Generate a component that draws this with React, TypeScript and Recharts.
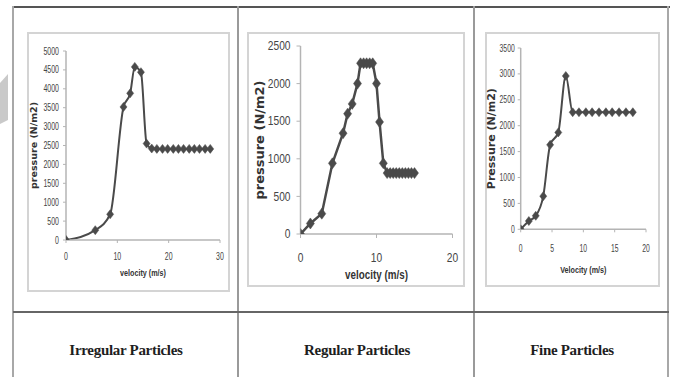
import React from 'react';
import { LineChart, Line, XAxis, YAxis, Label } from 'recharts';

// ---------- data ----------
const irregularVelocity = [0, 5.7, 8.6, 11.2, 12.5, 13.4, 14.6, 15.7, 16.7, 17.7, 18.8, 19.8, 20.9, 21.9, 22.9, 24.0, 25.0, 26.0, 27.1, 28.1];
const irregularPressure = [0, 260, 680, 3520, 3880, 4580, 4440, 2550, 2420, 2410, 2410, 2410, 2410, 2410, 2410, 2410, 2410, 2410, 2410, 2410];
const irregularXTicks = [0, 10, 20, 30];
const irregularYTicks = [0, 500, 1000, 1500, 2000, 2500, 3000, 3500, 4000, 4500, 5000];

const regularVelocity = [0, 1.3, 2.8, 4.2, 5.6, 6.2, 6.8, 7.5, 7.9, 8.3, 8.7, 9.1, 9.5, 10.0, 10.4, 10.9, 11.4, 11.8, 12.2, 12.6, 13.0, 13.4, 13.8, 14.2, 14.6, 15.0];
const regularPressure = [0, 140, 270, 940, 1340, 1600, 1730, 2000, 2270, 2270, 2270, 2270, 2270, 2000, 1490, 940, 810, 810, 810, 810, 810, 810, 810, 810, 810, 810];
const regularXTicks = [0, 10, 20];
const regularYTicks = [0, 500, 1000, 1500, 2000, 2500];

const fineVelocity = [0, 1.3, 2.4, 3.6, 4.7, 6.0, 7.2, 8.3, 9.3, 10.4, 11.4, 12.5, 13.6, 14.6, 15.7, 16.8, 17.9];
const finePressure = [0, 160, 260, 640, 1630, 1870, 2960, 2260, 2260, 2260, 2260, 2260, 2260, 2260, 2260, 2260, 2260];
const fineXTicks = [0, 5, 10, 15, 20];
const fineYTicks = [0, 500, 1000, 1500, 2000, 2500, 3000, 3500];

const captions = ['Irregular Particles', 'Regular Particles', 'Fine Particles'];

// ---------- helpers ----------
const zip = (v: number[], p: number[]) => v.map((x, i) => ({ v: x, p: p[i] }));

const SANS = "'Liberation Sans', Arial, sans-serif";
const WIDE_BOLD = "'DejaVu Sans', Verdana, sans-serif";
const LINE = '#4a4a4a';
const AXIS = '#b4b4b4';

const makeTick = (fontSize: number, sx: number, isX: boolean) => (p: any) => (
  <text
    transform={`translate(${p.x},${p.y}) scale(${sx},1)`}
    textAnchor={p.textAnchor}
    dy={isX ? '0.71em' : '0.355em'}
    fontSize={fontSize} fontFamily={SANS} fill="#444"
  >{p.payload.value}</text>
);

type PanelProps = {
  left: number; top: number; width: number; height: number;
  data: { v: number; p: number }[];
  xDomain: [number, number]; yDomain: [number, number];
  xTicks: number[]; yTicks: number[];
  margin: { top: number; right: number; left: number; bottom: number };
  yAxisWidth: number; xAxisHeight: number;
  tickFont: number; tickScale: number; ySize: number; yMargin: number; xSize: number; xMargin: number;
  xLabel: string; xLabelFont: number; xLabelOffset: number; xLabelScale: number;
  yLabel: string; yLabelFont: number; yLabelOffset: number;
  curve: 'monotone' | 'linear';
  dw: number; dh: number; strokeW: number;
};

function Panel(props: PanelProps) {
  const {
    left, top, width, height, data, xDomain, yDomain, xTicks, yTicks, margin,
    yAxisWidth, xAxisHeight, tickFont, tickScale, ySize, yMargin, xSize, xMargin,
    xLabel, xLabelFont, xLabelOffset, xLabelScale,
    yLabel, yLabelFont, yLabelOffset, curve, dw, dh, strokeW,
  } = props;
  return (
    <div style={{ position: 'absolute', left, top, width, height }}>
      <div style={{ position: 'absolute', left: 0, top: 0, width, height, boxSizing: 'border-box', border: '2px solid #d4d4d4', background: '#fff' }} />
      <div style={{ position: 'absolute', left: 0, top: 0 }}>
        <LineChart width={width} height={height} data={data} margin={margin}>
          <XAxis
            dataKey="v" type="number" domain={xDomain} ticks={xTicks} allowDataOverflow
            height={xAxisHeight} tickSize={xSize} tickMargin={xMargin}
            axisLine={{ stroke: AXIS, strokeWidth: 1.5 }} tickLine={{ stroke: AXIS }}
            tick={makeTick(tickFont, tickScale, true)} interval={0}
          >
            <Label
              value={xLabel}
              content={(lp: any) => {
                const vb = lp.viewBox;
                const cx = vb.x + vb.width / 2;
                const by = vb.y + vb.height - xLabelOffset;
                return (
                  <text transform={`translate(${cx},${by}) scale(${xLabelScale},1)`} textAnchor="middle"
                    fontSize={xLabelFont} fontFamily={SANS} fontWeight="bold" fill="#333">{xLabel}</text>
                );
              }}
            />
          </XAxis>
          <YAxis
            dataKey="p" type="number" domain={yDomain} ticks={yTicks} allowDataOverflow
            width={yAxisWidth} tickSize={ySize} tickMargin={yMargin}
            axisLine={{ stroke: AXIS, strokeWidth: 1.5 }} tickLine={{ stroke: AXIS }}
            tick={makeTick(tickFont, tickScale, false)} interval={0}
          >
            <Label
              value={yLabel}
              content={(lp: any) => {
                const vb = lp.viewBox;
                const cx = vb.x + yLabelOffset;
                const cy = vb.y + vb.height / 2;
                return (
                  <text transform={`translate(${cx},${cy}) rotate(-90)`} textAnchor="middle" dy="0.355em"
                    fontSize={yLabelFont} fontFamily={WIDE_BOLD} fontWeight="bold" fill="#333">{yLabel}</text>
                );
              }}
            />
          </YAxis>
          <Line
            type={curve} dataKey="p" stroke={LINE} strokeWidth={strokeW}
            isAnimationActive={false} activeDot={false}
            dot={(d: any) => (
              <path key={`d-${d.index}`}
                d={`M${d.cx},${d.cy - dh} L${d.cx + dw},${d.cy} L${d.cx},${d.cy + dh} L${d.cx - dw},${d.cy} Z`}
                fill={LINE} stroke={LINE} strokeWidth={0.5} />
            )}
          />
        </LineChart>
      </div>
    </div>
  );
}

const hLine = (top: number, left: number, width: number, color: string, h = 2) => (
  <div style={{ position: 'absolute', left, top, width, height: h, background: color }} />
);
const vLine = (left: number, top: number, height: number, color: string, w = 2) => (
  <div style={{ position: 'absolute', left, top, width: w, height, background: color }} />
);

export default function App() {
  const colCenters = [126, 357, 572];
  return (
    <div style={{ position: 'absolute', left: 0, top: 0, width: 673, height: 377, background: '#fff', overflow: 'hidden' }}>
      {/* leftover grey decoration */}
      <div style={{ position: 'absolute', left: 0, top: 74, width: 8, height: 50, background: '#c9c9c9', clipPath: 'polygon(0 18%, 100% 0, 100% 92%, 0 100%)' }} />

      {/* table grid */}
      {hLine(6, 13, 657, '#555')}
      {vLine(12, 6, 371, '#a8a8a8')}
      {vLine(237, 6, 371, '#9a9a9a')}
      {vLine(473, 6, 371, '#9a9a9a')}
      {vLine(667, 6, 371, '#a8a8a8')}
      {hLine(311, 13, 656, '#666')}

      <Panel
        left={27} top={32} width={203} height={260}
        data={zip(irregularVelocity, irregularPressure)}
        xDomain={[0, 30]} yDomain={[0, 5000]} xTicks={irregularXTicks} yTicks={irregularYTicks}
        margin={{ top: 19, right: 10, left: 0, bottom: 0 }} yAxisWidth={39} xAxisHeight={52}
        tickFont={10} tickScale={0.7} ySize={3} yMargin={4} xSize={3} xMargin={10}
        xLabel="velocity (m/s)" xLabelFont={9} xLabelOffset={16} xLabelScale={0.8}
        yLabel="pressure (N/m2)" yLabelFont={9.5} yLabelOffset={7}
        curve="monotone" dw={3.5} dh={4.5} strokeW={2}
      />
      <Panel
        left={247} top={32} width={218} height={255}
        data={zip(regularVelocity, regularPressure)}
        xDomain={[0, 20]} yDomain={[0, 2500]} xTicks={regularXTicks} yTicks={regularYTicks}
        margin={{ top: 14, right: 12.5, left: 0, bottom: 0 }} yAxisWidth={53.5} xAxisHeight={53}
        tickFont={12} tickScale={0.85} ySize={4} yMargin={6} xSize={4} xMargin={15}
        xLabel="velocity (m/s)" xLabelFont={12} xLabelOffset={8} xLabelScale={0.82}
        yLabel="pressure (N/m2)" yLabelFont={13} yLabelOffset={12}
        curve="linear" dw={4} dh={5.5} strokeW={2.5}
      />
      <Panel
        left={485} top={32} width={175} height={255}
        data={zip(fineVelocity, finePressure)}
        xDomain={[0, 20]} yDomain={[0, 3500]} xTicks={fineXTicks} yTicks={fineYTicks}
        margin={{ top: 16, right: 14, left: 0, bottom: 0 }} yAxisWidth={35.7} xAxisHeight={57.7}
        tickFont={10} tickScale={0.68} ySize={3} yMargin={3} xSize={3} xMargin={13}
        xLabel="Velocity (m/s)" xLabelFont={9} xLabelOffset={14} xLabelScale={0.8}
        yLabel="Pressure (N/m2)" yLabelFont={11} yLabelOffset={6}
        curve="monotone" dw={3.5} dh={4.5} strokeW={2}
      />

      {captions.map((c, i) => (
        <div key={c} style={{
          position: 'absolute', left: colCenters[i] - 100, top: 340, width: 200, textAlign: 'center',
          fontFamily: "'Liberation Serif', 'Times New Roman', serif", fontWeight: 'bold', fontSize: 15,
          lineHeight: '20px', color: '#1e1e1e', letterSpacing: '-0.3px',
        }}>{c}</div>
      ))}
    </div>
  );
}
